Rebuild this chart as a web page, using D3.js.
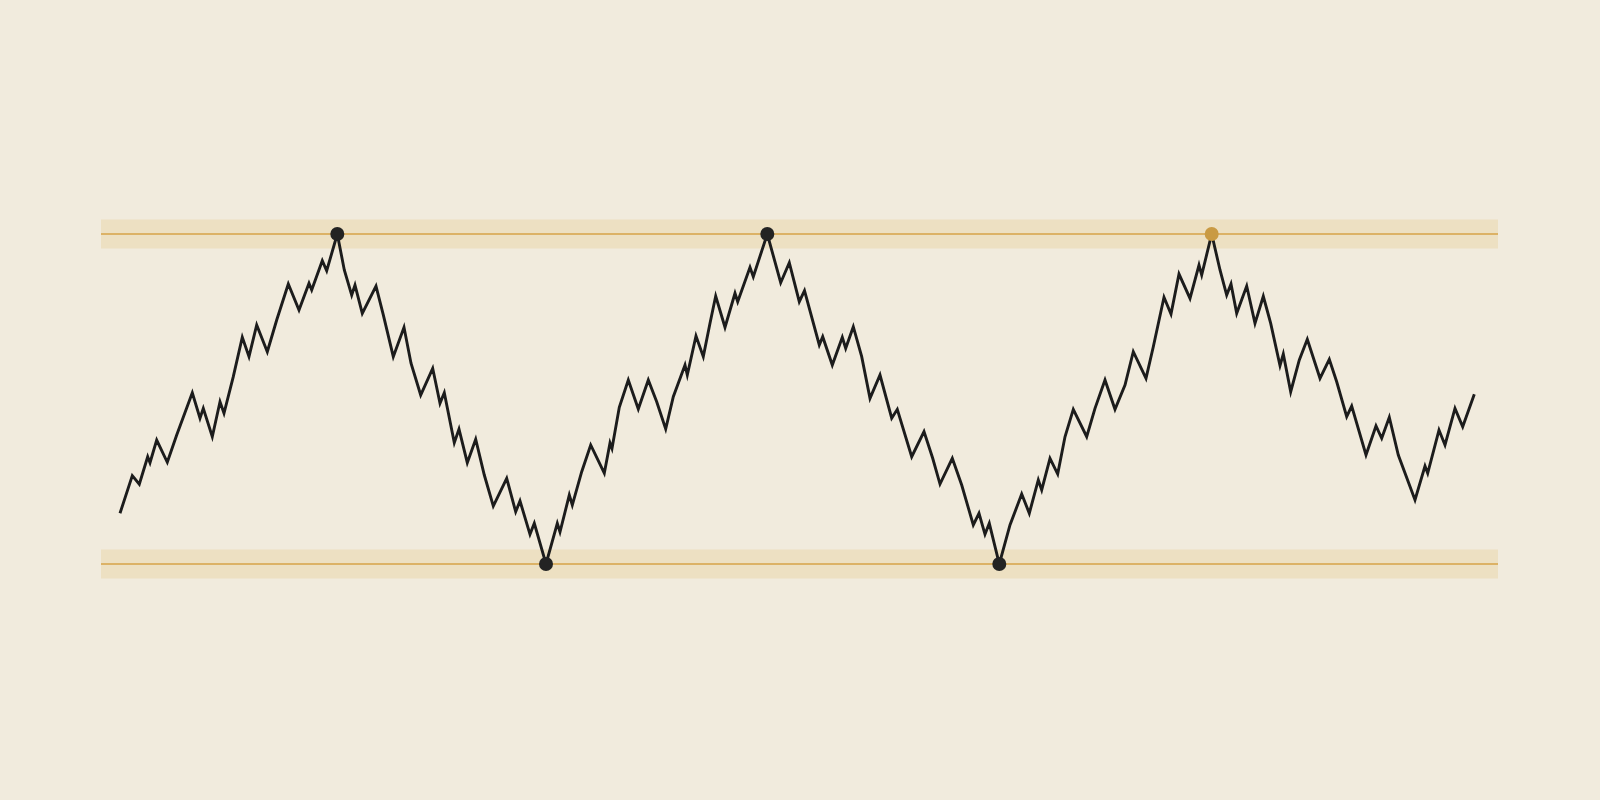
<!DOCTYPE html>
<html>
<head>
<meta charset="utf-8">
<script src="https://cdn.jsdelivr.net/npm/d3@7"></script>
<style>
  html, body { margin: 0; padding: 0; background: #f1ebdd; }
  svg { display: block; }
</style>
</head>
<body>
<svg id="chart" width="1600" height="800"></svg>
<script>
// ---- data ----
const timeIdx = [0, 2.46, 3.86, 5.54, 6.0, 7.34, 9.46, 11.34, 14.46, 16.0, 16.66, 18.46, 20.0, 20.8, 22.66, 24.46, 25.8, 27.34, 29.46, 31.34, 33.66, 35.8, 37.8, 38.34, 40.46, 41.34, 43.46,
  44.86, 46.34, 47.0, 48.46, 51.2, 52.66, 54.66, 56.8, 58.2, 60.14, 62.54, 64.0, 64.86, 66.86, 67.8, 69.46, 71.14, 72.86, 74.66, 77.34, 79.14, 80.0, 82.0, 82.86, 85.2,
  87.46, 88.0, 89.86, 90.46, 92.34, 94.14, 96.86, 98.0, 98.4, 99.86, 101.66, 103.66, 105.66, 107.34, 109.14, 110.66, 113.0, 113.46, 115.2, 116.66, 118.0, 119.14, 121.0, 123.0, 123.54, 126.0, 126.66, 129.46,
  132.14, 133.86, 135.86, 136.9, 139.86, 140.54, 142.46, 144.46, 145.14, 146.66, 148.34, 150.0, 152.0, 154.34, 155.46, 158.34, 160.8, 162.54, 164.0, 166.46, 168.34, 170.66, 171.8, 173.0, 173.86, 175.86,
  178.0, 180.34, 181.86, 183.66, 184.34, 186.0, 187.54, 189.0, 190.66, 193.34, 195.0, 197.0, 199.0, 201.0, 202.66, 205.2, 206.66, 208.8, 210.2, 211.8, 214.0, 215.8, 216.34, 218.34,
  220.0, 221.34, 222.2, 223.34, 225.34, 227.0, 228.66, 230.14, 232.0, 232.66, 234.14, 235.86, 237.46, 240.0, 241.86, 243.34, 245.34, 246.34, 249.2, 251.2, 252.34, 253.86, 255.66, 259.0, 261.0, 261.54, 263.8, 265.0, 267.0, 268.54, 270.86];

const price = [104.61, 108.03, 107.25, 109.75, 109.21, 111.27, 109.25, 111.73, 115.57, 113.25, 114.15, 111.57, 114.75, 113.70, 117.03, 120.61, 118.85, 121.73, 119.30, 122.18, 125.45, 123.09, 125.52, 124.91, 127.57, 126.66, 130.00,
  126.73, 124.45, 125.36, 122.79, 125.27, 122.64, 118.85, 121.52, 118.25, 115.36, 117.79, 114.61, 115.57, 111.03, 112.27, 109.21, 111.34, 108.09, 105.27, 107.79, 104.75, 105.73, 102.70, 103.70, 100.00,
  103.70, 102.91, 106.27, 105.36, 108.39, 110.82, 108.25, 111.00, 110.50, 114.25, 116.73, 114.09, 116.73, 114.75, 112.27, 115.21, 118.09, 117.18, 120.73, 118.85, 121.88, 124.36, 121.52, 124.61, 123.85, 126.97, 126.12, 130.00,
  125.57, 127.39, 123.85, 124.85, 119.91, 120.66, 118.09, 120.61, 119.61, 121.57, 118.85, 115.06, 117.18, 113.25, 114.06, 109.75, 112.03, 109.61, 107.27, 109.61, 107.18, 103.55, 104.61, 102.70, 103.70, 100.00,
  103.55, 106.36, 104.61, 107.64, 106.73, 109.61, 108.18, 111.57, 114.06, 111.57, 114.15, 116.73, 114.06, 116.27, 119.30, 116.88, 119.75, 124.25, 122.73, 126.36, 124.15, 127.18, 126.27, 130.00,
  126.73, 124.45, 125.45, 122.79, 125.27, 121.88, 124.34, 121.88, 118.03, 119.09, 115.66, 118.55, 120.43, 116.88, 118.61, 116.57, 113.39, 114.36, 109.91, 112.55, 111.43, 113.34, 109.91, 105.82, 108.91, 108.25, 112.18, 110.82, 114.15, 112.48, 115.43];

// horizontal levels (resistance, support) and their zone half-width
const levelNames = ["resistance", "support"];
const levelValues = [130, 100];
const zoneTolerance = 1.32;
const zoneExtent = [-3.8, 275.6];

// touch points
const touchTimes = [43.46, 85.2, 129.46, 175.86, 218.34];
const touchValues = [130, 100, 130, 100, 130];
const touchHighlight = [false, false, false, false, true];

// ---- chart ----
const svg = d3.select("#chart");
const W = 1600, H = 800;
svg.append("rect").attr("width", W).attr("height", H).attr("fill", "#f1ebdd");

const x = d3.scaleLinear().domain([0, 270.86]).range([120, 1474.3]);
const y = d3.scaleLinear().domain([100, 130]).range([564, 234]);

const zones = svg.append("g");
levelValues.forEach((v, i) => {
  zones.append("rect")
    .attr("class", "zone " + levelNames[i])
    .attr("x", x(zoneExtent[0]))
    .attr("width", x(zoneExtent[1]) - x(zoneExtent[0]))
    .attr("y", y(v + zoneTolerance))
    .attr("height", y(v - zoneTolerance) - y(v + zoneTolerance))
    .attr("fill", "#ede0c2");
  zones.append("line")
    .attr("x1", x(zoneExtent[0]))
    .attr("x2", x(zoneExtent[1]))
    .attr("y1", y(v)).attr("y2", y(v))
    .attr("stroke", "#d6a347")
    .attr("stroke-width", 1.6);
});

const data = timeIdx.map((t, i) => ({ t, p: price[i] }));
const line = d3.line().x(d => x(d.t)).y(d => y(d.p));

svg.append("path")
  .datum(data)
  .attr("d", line)
  .attr("fill", "none")
  .attr("stroke", "#1c1c1c")
  .attr("stroke-width", 2.9)
  .attr("stroke-linejoin", "miter")
  .attr("stroke-miterlimit", 10);

const touches = touchTimes.map((t, i) => ({ t, p: touchValues[i], h: touchHighlight[i] }));
svg.append("g").selectAll("circle")
  .data(touches)
  .join("circle")
  .attr("cx", d => x(d.t))
  .attr("cy", d => y(d.p))
  .attr("r", 7)
  .attr("fill", d => d.h ? "#c99a43" : "#232323");
</script>
</body>
</html>
